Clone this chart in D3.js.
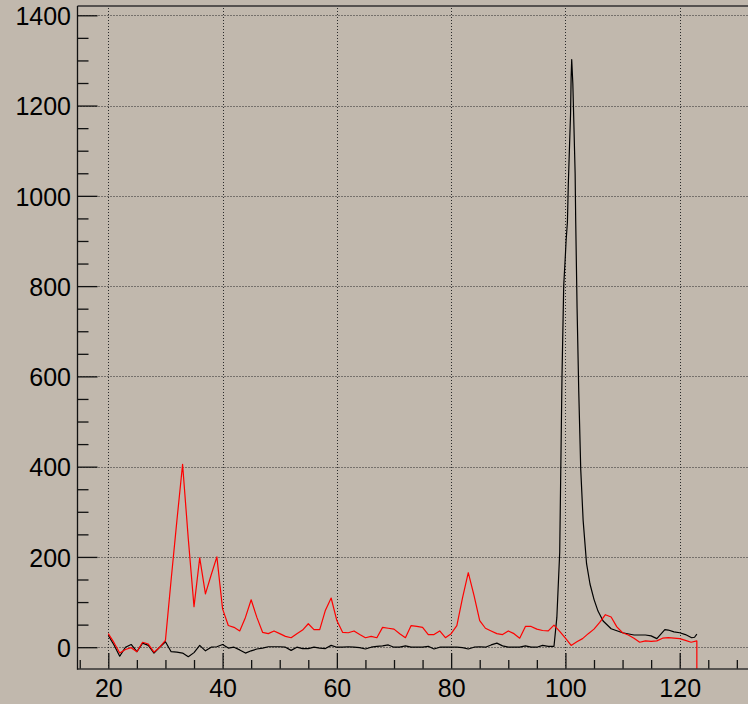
<!DOCTYPE html>
<html><head><meta charset="utf-8">
<script src="https://cdn.jsdelivr.net/npm/d3@7"></script>
<style>
html,body{margin:0;padding:0;background:#c1b8ad;}
svg{display:block;}
text{font-family:"Liberation Sans",Arial,Helvetica,sans-serif;}
</style></head>
<body>
<script>
// ---- data ----
const xTicks = [20, 40, 60, 80, 100, 120];
const yTicks = [0, 200, 400, 600, 800, 1000, 1200, 1400];

const blackX = [20,21,22,23,24,25,26,27,28,29,30,31,32,33,34,35,36,37,38,39,40,41,42,43,44,45,46,47,48,49,50,51,52,53,54,55,56,57,58,59,60,61,62,63,64,65,66,67,68,69,70,71,72,73,74,75,76,77,78,79,80,81,82,83,84,85,86,87,88,89,90,91,92,93,94,95,96,97,98,98.5,99,99.4,99.7,100,100.12,100.35,100.5,100.7,100.9,101,101.1,101.3,101.5,101.7,101.8,102.04,102.33,102.68,103.1,103.7,104.3,105,105.7,106.6,108,110,112,114,115,116,117.4,118,119,120,121,122.1,122.6,123];
const blackY = [26,5,-20,0,6,-10,9,4,-13,0,12,-10,-11,-13,-21,-12,4,-8,0,1,6,-2,0,-6,-13,-8,-4,-2,1,1,1,0,-7,0,-3,-3,0,-2,-3,4,0,0,1,0,-1,-4,0,2,3,5,0,0,3,0,0,0,2,-4,0,0,0,0,-1,-4,0,1,0,5,9,3,0,0,0,3,0,0,4,2,2,66,210,600,800,870,901,942,1023,1104,1182,1263,1302,1248,1149,1049,945,751,568,394,281,185,140,106,80,58,41,32,27,27,25,19,39,38,34,32,28,21,22,29];

const redX = [20,21,22,23,24,25,26,27,28,29,30,31,32,33,34,35,36,37,38,39,40,41,42,43,44,45,46,47,48,49,50,51,52,53,54,55,56,57,58,59,60,61,62,63,64,65,66,67,68,69,70,71,72,73,74,75,76,77,78,79,80,81,82,83,84,85,86,87,88,89,90,91,92,93,94,95,96,97,98,99,100,101,102,103,104,105,106,107,108,109,110,111,112,113,114,115,116,117,118,119,120,121,122,123,123];
const redY = [30,10,-13,-5,-1,-10,11,7,-11,0,15,150,280,405,240,90,198,118,160,200,85,48,44,36,66,105,66,33,30,36,30,24,21,30,38,52,39,39,82,109,59,33,32,36,28,21,24,21,44,42,40,30,21,48,46,44,28,28,36,21,30,48,110,165,115,59,42,36,30,28,36,30,20,46,46,40,37,36,49,35,20,4,12,19,30,40,55,72,67,45,32,27,20,11,14,13,14,20,21,20,19,15,11,14,-120];

// ---- layout ----
const W = 748, H = 704;
const frame = {left: 77.5, top: 6, right: 770, bottom: 669};

const svg = d3.select("body").append("svg").attr("width", W).attr("height", H);
svg.append("rect").attr("width", W).attr("height", H).attr("fill", "#c1b8ad");

const x = d3.scaleLinear().domain([20, 120]).range([108.3, 679.7]);
const y = d3.scaleLinear().domain([0, 1400]).range([647.2, 15.3]);

// grid
const grid = svg.append("g").attr("stroke", "#2a2a2a").attr("stroke-width", 1).attr("stroke-dasharray", "1,2");
grid.selectAll("line.v").data(xTicks).join("line")
  .attr("x1", d => Math.round(x(d)) + 0.5).attr("x2", d => Math.round(x(d)) + 0.5)
  .attr("y1", frame.top + 2).attr("y2", frame.bottom);
grid.selectAll("line.h").data(yTicks).join("line")
  .attr("y1", d => Math.round(y(d)) + 0.5).attr("y2", d => Math.round(y(d)) + 0.5)
  .attr("x1", frame.left).attr("x2", frame.right);

// clip for curves
svg.append("clipPath").attr("id", "clip").append("rect")
  .attr("x", frame.left).attr("y", frame.top).attr("width", frame.right - frame.left).attr("height", frame.bottom - frame.top);

const line = d3.line().x(d => x(d[0])).y(d => y(d[1]));
const blackData = blackX.map((v, i) => [v, blackY[i]]);
const redData = redX.map((v, i) => [v, redY[i]]);

const curves = svg.append("g").attr("clip-path", "url(#clip)");
curves.append("path").datum(blackData).attr("d", line)
  .attr("fill", "none").attr("stroke", "#000").attr("stroke-width", 1.2).attr("stroke-linejoin", "round");
curves.append("path").datum(redData).attr("d", line)
  .attr("fill", "none").attr("stroke", "#ff0000").attr("stroke-width", 1.2).attr("stroke-linejoin", "round");

// x axis (ticks inward)
const xMinor = d3.range(15, 135, 5).filter(v => v % 20 !== 0);
const gxMinor = svg.append("g").attr("transform", `translate(0,${frame.bottom})`)
  .call(d3.axisBottom(x).tickValues(xMinor).tickSize(-9).tickFormat(""));
const gx = svg.append("g").attr("transform", `translate(0,${frame.bottom})`)
  .call(d3.axisBottom(x).tickValues(xTicks).tickSize(-16).tickPadding(10).tickFormat(d3.format("d")));
[gx, gxMinor].forEach(g => {
  g.select(".domain").remove();
  g.selectAll(".tick line").attr("stroke", "#111").attr("stroke-width", 1.3);
});
gx.selectAll(".tick text").attr("font-size", 25).attr("fill", "#000")
  .style("font-family", '"Liberation Sans", Arial, Helvetica, sans-serif');

// y axis (ticks inward)
const yMinor = d3.range(-0, 1450, 50).filter(v => v % 200 !== 0);
const gyMinor = svg.append("g").attr("transform", `translate(${frame.left},0)`)
  .call(d3.axisLeft(y).tickValues(yMinor).tickSize(-11).tickFormat(""));
const gy = svg.append("g").attr("transform", `translate(${frame.left},0)`)
  .call(d3.axisLeft(y).tickValues(yTicks).tickSize(-20).tickPadding(6.5).tickFormat(d3.format("d")));
[gy, gyMinor].forEach(g => {
  g.select(".domain").remove();
  g.selectAll(".tick line").attr("stroke", "#111").attr("stroke-width", 1.3);
});
gy.selectAll(".tick text").attr("font-size", 25).attr("fill", "#000").attr("dy", "0.37em")
  .style("font-family", '"Liberation Sans", Arial, Helvetica, sans-serif');

// frame lines
svg.append("line").attr("x1", frame.left).attr("x2", W).attr("y1", frame.top).attr("y2", frame.top)
  .attr("stroke", "#565250").attr("stroke-width", 2);
svg.append("line").attr("x1", frame.left).attr("x2", W).attr("y1", frame.bottom).attr("y2", frame.bottom)
  .attr("stroke", "#333", ).attr("stroke-width", 1.6);
svg.append("line").attr("x1", frame.left).attr("x2", frame.left).attr("y1", frame.top).attr("y2", frame.bottom + 0.8)
  .attr("stroke", "#111").attr("stroke-width", 1.3);
</script>
</body></html>
